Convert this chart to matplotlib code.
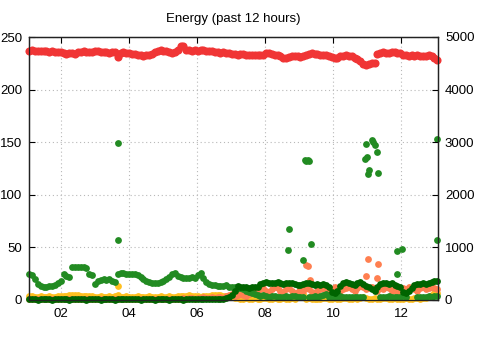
import numpy as np
import matplotlib
matplotlib.use("Agg")
import matplotlib.pyplot as plt

plt.rcParams['font.family'] = ['Liberation Sans', 'DejaVu Sans']

# sample times (hours of day), every ~5 minutes over the past 12 hours
t_start, t_end, n_samples = 1.07, 13.07, 144
xtick_pos = [2, 4, 6, 8, 10, 12]
xtick_labels = ["02", "04", "06", "08", "10", "12"]
left_ticks = [0, 50, 100, 150, 200, 250]
right_ticks = [0, 1000, 2000, 3000, 4000, 5000]

voltage = [
    237, 237.5, 236.5, 237, 236.8, 236.5, 237, 236, 236.5, 236, 236,
    235.5, 234.5, 234, 234.5, 235, 234,
    235.5, 236, 236.5, 236, 235.5, 236, 237, 236.5, 236, 235.5, 236, 235, 235.5, 236,
    231,
    235, 235.5, 235, 234.5, 234, 233.5, 233, 232.5, 232, 233, 232.5,
    234, 236, 237, 237.5, 237,
    236.5, 236, 235, 236, 238,
    241.5, 241, 238,
    237.5, 237, 238, 237, 238, 237.5,
    237, 236.5, 236.5, 236, 235.5, 235, 235.5, 234.5, 235,
    234, 233.5, 233, 234, 233.5, 232.5, 233, 232.5, 233, 232.8, 232.5,
    233, 234.5, 235, 234, 233, 232.5, 231.5, 230.5, 230, 231, 232,
    231.5, 232, 231, 232, 233, 234,
    234.5, 234,
    233.5, 233, 232.5, 233, 232, 231, 230, 230.5, 231.5, 232,
    232.5, 232, 231.5, 230.5, 229, 227, 224, 223.5, 224.5, 225,
    225.5, 234,
    235, 235.5, 234.5, 235, 236, 235.5, 235, 234.5,
    233, 232.5, 232, 232.5, 232, 232.5, 232, 231.5, 232, 232.5, 231.5, 230, 228,
]

yellow = [
    3.5, 3.5, 3, 3, 3.5, 3, 3, 3.5, 3, 3,
    3.5, 3.5, 4, 4, 4.5, 4.5, 4.5, 4.5, 4, 4,
    4, 3.5, 3.5, 3, 3, 3.5, 3, 3, 3.5, 3,
    3.5, 4.5, 3, 3, 3.5, 3, 3, 3, 3.5, 3,
    3, 3, 3.5, 3, 3, 3, 3.5, 3, 3, 3.5,
    3, 3, 3.5, 3.5, 4, 4, 4.5, 4, 3.5, 3.5,
    3, 3.5, 4, 4, 4.5, 5, 5, 4.5, 4, 3.5,
    3,
    3, 2, 1.5, 1, 1, 1.5, 1, 1, 1.5, 1,
    1, 1.5, 2, 1, 1, 1.5, 1, 1, 2, 1,
    1, 1.5, 1, 5.5, 6, 5.5, 1, 1.5, 1, 1,
    1, 1, 1.5, 2, 1, 1, 1.5, 1, 1, 1.5,
    2, 1, 1, 1.5, 1, 2, 2.5, 1.5, 1, 1,
    1.5, 1, 1, 1.5, 2, 1, 1, 1.5, 1, 1,
    1, 1.5, 1, 1, 1.5, 2, 1, 1.5, 2, 3, 5, 6.5, 6.5,
]

orange = [
    0.5, 0.5, 0.5, 0.5, 0.5, 0.5, 0.5, 0.5, 0.5, 0.5,
    0.5, 0.5, 0.5, 0.5, 0.5, 0.5, 0.5, 0.5, 0.5, 0.5,
    0.5, 0.5, 0.5, 0.5, 0.5, 0.5, 0.5, 0.5, 0.5, 0.5,
    0.5, 0.5, 0.5, 0.5, 0.5, 0.5, 0.5, 0.5, 0.5, 0.5,
    0.5, 0.5, 0.5, 0.5, 0.5, 0.5, 0.5, 0.5, 0.5, 0.5,
    0.5, 0.5, 0.5,
    1, 2, 1, 1.5, 2, 1, 1.5, 2, 3, 2, 1.5, 3, 2, 2.5, 3, 2, 4, 5, 6,
    4, 5, 6, 5, 4, 6, 8, 7, 9, 10,
    11, 9, 8, 10, 12, 11, 9, 8, 10, 11,
    9, 7, 8, 10, 9, 11, 10, 8, 7, 9,
    10, 11, 9, 8, 10, 12, 11, 9, 10, 11,
    12, 10, 9, 11, 13, 12, 10, 11, 12, 10,
    9, 11, 10, 12, 11, 9, 10, 8, 9, 11,
    10, 12, 11, 10, 9, 11, 12, 10, 11, 12, 11, 10,
]

nan = float('nan')
green = [
    25, 24,
    20,
    15, 13, 12.5, 12.5, 13, 13,
    14, 16,
    18,
    25,
    23, 22,
    31, 31, 31.5, 31, 31, 30.5,
    25, 23.5,
    15,
    18, 19, 20, 19, 19.5, 18.5, 17,
    25, 25.5, 25.5, 25, 25, 24.5, 25, 24, 22, 20,
    18, 17, 16.5, 16, 16.5,
    17.5, 18,
    20, 22, 25, 25.5,
    23, 21.5, 21, 20.5, 21, 21.5, 21,
    24, 25.5,
    21, 17, 15.5, 14.5, 14, 13.5, 13, 13.5, 14, 12,
    12, 12, 11.5, 11, 10, 9, 8, 7, 6, 5,
    4, 4.5, 3.5, 3, 3.5, 4, 3, 2.5, 3, 3.5, 3, 4, 3.5, 3, 2.5, 3, nan, 2.5, 3, 3.5,
    3, 4, 5, 6, 3, 2.5, 3, 3, 3.5, 3, 2.5, 3, 3, 2.5, 3,
    3, 2.5,
    nan, nan, nan, nan, nan,
    3, 2.5, 3, 3.5, 3, 2.5, 3, 3, 3.5, 3,
    nan, nan, nan,
    3, 2.5, 3, 3, 3.5, 3, 4, 4,
]

dark_green = [
    0.5, 0.5, 0.5, 0.3, 0.5, 0.5, 0.5, 0.5, 0.3, 0.5, 0.5, 0.5,
    0.5, 0.5, 0.3, 0.5, 0.5, 0.5, 0.5, 0.5, 0.3, 0.5, 0.5, 0.5,
    0.5, 0.3, 0.5, 0.5, 0.5, 0.5, 0.3, 0.5, 0.5, 0.5, 0.5, 0.5,
    0.5, 0.5, 0.5, 0.3, 0.5, 0.5, 0.5, 0.5, 0.3, 0.5, 0.5, 0.5,
    0.5, 0.3, 0.5, 0.5, 0.5, 0.5, 0.3, 0.5, 0.5, 0.5, 0.5, 0.5,
    0.5, 0.5, 0.5, 0.5, 0.5, 0.5, 0.5, 0.5, 0.8, 1.5, 3, 5,
    9, 13,
    12, 12.5, 12, 11.5, 12, 12.5, 12,
    15, 16, 17, 16.5, 16, 16.5, 17, 16, 15.5, 16, 16.5, 16,
    15.5, 14, 14.5, 15, 16, 16.5, 15, 14.5,
    15, 14, 15, 14, 12, 8, 7, 9, 13, 16, 17, 16,
    15, 14, 16, 17, 15, 13, 12, 10, 9, 12,
    15, 16.5, 16, 15.5, 16, 14, 13, 12,
    8, 7, 9, 11, 14, 15,
    15.5, 16, 15.5, 16, 17, 18, 18,
]

# occasional spikes
green_spike_t = [3.676, 3.676, 8.715, 8.685, 9.126, 9.176, 9.22, 9.265, 9.29, 9.344,
                 10.94, 10.99, 10.97, 11.14, 11.19, 11.24, 11.285, 11.07, 11.04, 11.33,
                 11.87, 12.04, 11.87, 13.05, 13.07]
green_spike_v = [149, 57, 67.5, 47.5, 38, 133, 132, 133, 132.5, 53,
                 133.7, 135.6, 148.3, 152, 150, 147, 141, 123.6, 119.8, 120.4,
                 46.6, 48.2, 24.7, 152.8, 57]
orange_spike_t = [9.22, 9.26, 9.32, 11.03, 11.32, 10.97, 11.29]
orange_spike_v = [33, 32, 19, 38.7, 34, 22.8, 21]
yellow_spike_t = [3.676]
yellow_spike_v = [13]

t = np.linspace(t_start, t_end, n_samples)

fig = plt.figure(figsize=(4.8, 3.6), dpi=100)
ax = fig.add_axes([29/480, 60/360, 409/480, 263/360])
ax2 = ax.twinx()

s = 24
c_red = '#f03535'
c_yel = '#ffc020'
c_org = '#ff7f50'
c_grn = '#228b22'
c_dgr = '#006400'

ax.scatter(t, voltage, s=34, color=c_red, linewidths=0, zorder=3, clip_on=False)
ax.scatter(t, yellow, s=s, color=c_yel, linewidths=0, zorder=3, clip_on=False)
ax.scatter(yellow_spike_t, yellow_spike_v, s=s, color=c_yel, linewidths=0, zorder=3)
ax.scatter(t, orange, s=s, color=c_org, linewidths=0, zorder=4, clip_on=False)
ax.scatter(orange_spike_t, orange_spike_v, s=s, color=c_org, linewidths=0, zorder=4)
ax.scatter(t, green, s=s, color=c_grn, linewidths=0, zorder=5, clip_on=False)
ax.scatter(green_spike_t, green_spike_v, s=s, color=c_grn, linewidths=0, zorder=5, clip_on=False)
ax.scatter(t, dark_green, s=s, color=c_dgr, linewidths=0, zorder=6, clip_on=False)

ax.set_xlim(1.06, 13.09)
ax.set_ylim(0, 250)
ax2.set_ylim(0, 5000)
ax.set_xticks(xtick_pos)
ax.set_xticklabels(xtick_labels)
ax.set_yticks(left_ticks)
ax2.set_yticks(right_ticks)

ax.grid(True, color='#b8b8b8', linestyle=(0, (1, 2.5)), linewidth=0.8)
ax.set_axisbelow(True)

ax.tick_params(axis='x', direction='in', length=4, top=True, labelsize=9.5, pad=6)
ax.tick_params(axis='y', direction='in', length=4, labelsize=9.5, pad=5)
ax2.tick_params(axis='y', direction='in', length=4, labelsize=9.5, pad=5)
for a in (ax, ax2):
    for sp in a.spines.values():
        sp.set_linewidth(0.9)
        sp.set_color('#222222')

ax.set_title("Energy (past 12 hours)", fontsize=9.5, pad=11)

fig.savefig("out.png", dpi=100)
